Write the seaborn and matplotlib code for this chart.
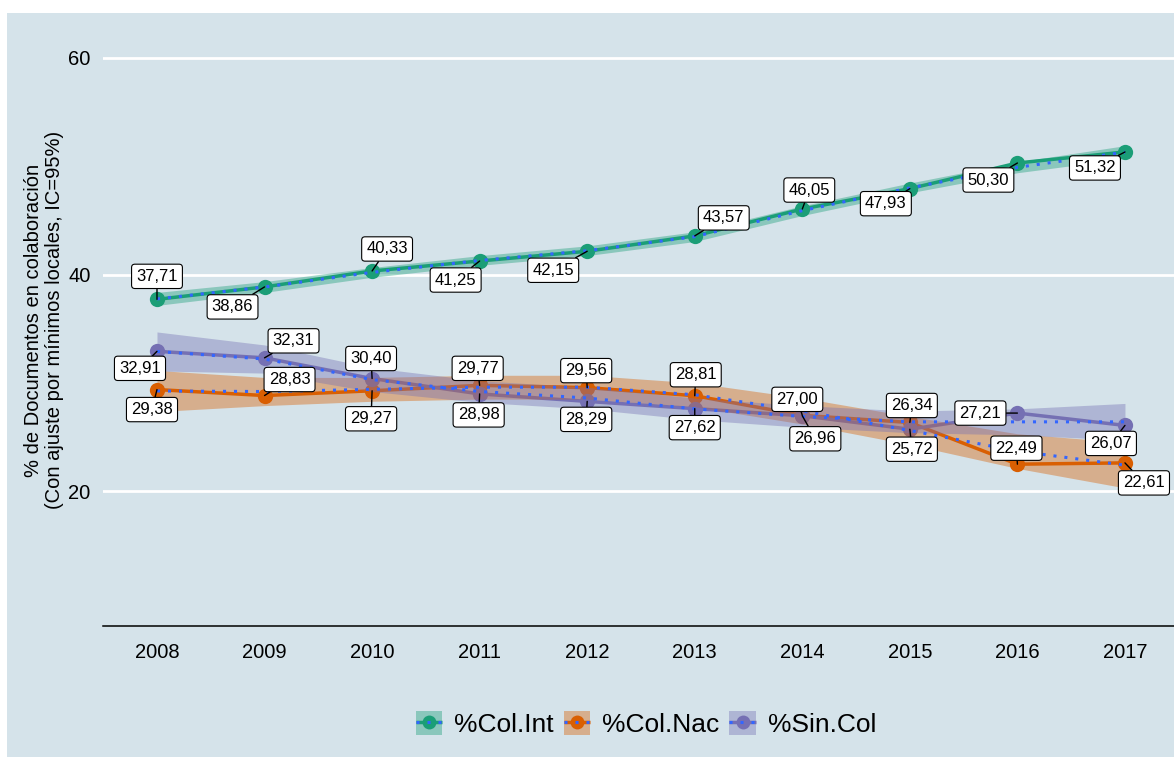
import pandas as pd
import seaborn as sns
import matplotlib.pyplot as plt
from matplotlib.patches import Rectangle, Patch
from matplotlib.lines import Line2D

# Data
years = [2008, 2009, 2010, 2011, 2012, 2013, 2014, 2015, 2016, 2017]
series_names = ['%Col.Int', '%Col.Nac', '%Sin.Col']
col_int = [37.71, 38.86, 40.33, 41.25, 42.15, 43.57, 46.05, 47.93, 50.30, 51.32]
col_nac = [29.38, 28.83, 29.27, 29.77, 29.56, 28.81, 27.00, 26.34, 22.49, 22.61]
sin_col = [32.91, 32.31, 30.40, 28.98, 28.29, 27.62, 26.96, 25.72, 27.21, 26.07]

# loess fit and 95% band half-width
fit_int = [37.75, 38.85, 40.2, 41.3, 42.2, 43.5, 45.9, 48.0, 49.9, 51.3]
band_int = [0.6, 0.5, 0.45, 0.45, 0.45, 0.45, 0.45, 0.45, 0.5, 0.6]
fit_nac = [29.25, 29.2, 29.4, 29.6, 29.6, 28.9, 27.4, 25.6, 23.7, 22.4]
band_nac = [1.9, 1.3, 1.1, 1.1, 1.1, 1.1, 1.2, 1.3, 1.6, 2.1]
fit_sin = [32.9, 32.2, 30.3, 29.2, 28.6, 27.6, 26.9, 26.4, 26.4, 26.4]
band_sin = [1.8, 1.3, 1.1, 1.0, 1.0, 1.0, 1.0, 1.0, 1.2, 1.7]

# label offsets in pixels (dx, dy) relative to the point
off_int = [(0, 23), (-32, -20), (15, 22), (-24, -19), (-34, -19), (29, 18), (7, 19), (-24, -15), (-29, -17), (-30, -16)]
off_nac = [(-5, -20), (25, 16), (-1, -28), (-2, 17), (-1, 17), (1, 21), (-5, 16), (2, 17), (-1, 16), (19, -20)]
off_sin = [(-17, -17), (29, 17), (-1, 20), (-1, -21), (-1, -18), (0, -19), (13, -23), (2, -20), (-37, 0), (-14, -18)]

colors = {'%Col.Int': '#1B9E77', '%Col.Nac': '#D95F02', '%Sin.Col': '#7570B3'}
bg = '#d5e3ea'
smooth_col = '#3366FF'

values = [col_int, col_nac, sin_col]
fits = [fit_int, fit_nac, fit_sin]
bands = [band_int, band_nac, band_sin]
offsets = [off_int, off_nac, off_sin]

df = pd.concat([pd.DataFrame({'year': years, 'value': v, 'fit': f, 'serie': n})
                for n, v, f in zip(series_names, values, fits)])

plt.rcParams['font.family'] = ['Liberation Sans', 'DejaVu Sans']

fig = plt.figure(figsize=(11.74, 7.58), dpi=100)
fig.patches.append(Rectangle((7 / 1174, 1 / 758), 1 - 7 / 1174, 744 / 758,
                             transform=fig.transFigure, fc=bg, ec='none', zorder=-1))
ax = fig.add_axes([103 / 1174, 132 / 758, 1071 / 1174, 613 / 758])
ax.set_facecolor(bg)

# series lines + points
sns.lineplot(data=df, x='year', y='value', hue='serie', palette=colors,
             marker='o', markersize=11, markeredgewidth=0, lw=2.5,
             legend=False, ax=ax, zorder=2)

# confidence bands
for n, f, b in zip(series_names, fits, bands):
    lo = [a - c for a, c in zip(f, b)]
    hi = [a + c for a, c in zip(f, b)]
    ax.fill_between(years, lo, hi, color=colors[n], alpha=0.4, lw=0, zorder=3)

# loess lines
sns.lineplot(data=df, x='year', y='fit', hue='serie',
             palette={n: smooth_col for n in series_names},
             lw=2.2, linestyle=(0, (1, 2.6)), legend=False, ax=ax, zorder=4)

# labels
for v, offs in zip(values, offsets):
    for x, y, (dx, dy) in zip(years, v, offs):
        txt = f'{y:.2f}'.replace('.', ',')
        ax.annotate(txt, (x, y), xytext=(dx, dy), textcoords='offset pixels',
                    ha='center', va='center', fontsize=12, zorder=6,
                    bbox=dict(boxstyle='round,pad=0.28,rounding_size=0.2',
                              fc='white', ec='black', lw=0.8),
                    arrowprops=dict(arrowstyle='-', color='black', lw=1,
                                    shrinkA=0, shrinkB=0))

ax.set_xlim(2007.498, 2017.456)
ax.set_ylim(7.55, 64.15)
ax.set_xticks(years)
ax.set_yticks([20, 40, 60])
ax.grid(axis='y', color='white', lw=2)
ax.grid(axis='x', visible=False)
ax.set_axisbelow(True)
for s in ['top', 'right', 'left']:
    ax.spines[s].set_visible(False)
ax.spines['bottom'].set_color('black')
ax.spines['bottom'].set_linewidth(1.1)
ax.tick_params(axis='both', length=0, labelsize=14.5, colors='black')
ax.tick_params(axis='x', pad=12)
ax.tick_params(axis='y', pad=9)
ax.set_xlabel('')
ax.set_ylabel('')

fig.text(44 / 1174, 1 - 320 / 758,
         '% de Documentos en colaboración\n(Con ajuste por mínimos locales, IC=95%)',
         rotation=90, ha='center', va='center', fontsize=14.5, linespacing=1.15)

# legend
handles = []
for n in series_names:
    handles.append((Patch(fc=colors[n], alpha=0.4, ec='none'),
                    Line2D([], [], color=colors[n], lw=2.5, marker='o',
                           markersize=10, markeredgewidth=0, solid_capstyle='butt'),
                    Line2D([], [], color=smooth_col, lw=2.2, linestyle=(0, (1, 2.6)))))
fig.legend(handles, series_names, loc='center', bbox_to_anchor=(646 / 1174, 1 - 724 / 758),
           ncol=3, frameon=False, fontsize=19, handlelength=1.0, handleheight=1.0,
           handletextpad=0.45, columnspacing=0.38)

fig.savefig('out.png', dpi=100)
